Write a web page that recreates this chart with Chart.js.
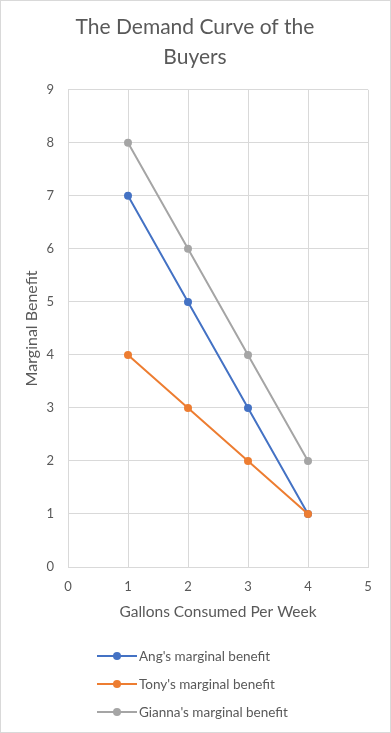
<!DOCTYPE html>
<html>
<head>
<meta charset="utf-8">
<script src="https://cdn.jsdelivr.net/npm/chart.js@4"></script>
<style>
  html, body { margin: 0; padding: 0; background: #fff; }
  #wrap {
    position: relative;
    width: 391px;
    height: 733px;
    box-sizing: border-box;
    border: 1px solid #d9d9d9;
    font-family: Lato, "Open Sans", sans-serif;
  }
  #chart { position: absolute; left: -1px; top: -1px; }
  #legend { position: absolute; left: 96px; top: 641px; }
  .legend-item { display: flex; align-items: center; height: 28px; color: #595959; font-size: 13.5px; }
  .legend-swatch { position: relative; width: 40px; height: 10px; margin-right: 2px; }
  .legend-swatch .ln { position: absolute; left: 0; right: 0; top: 4px; height: 2px; }
  .legend-swatch .dot { position: absolute; left: 16px; top: 1px; width: 8px; height: 8px; border-radius: 50%; }
</style>
</head>
<body>
<div id="wrap">
  <canvas id="chart" width="391" height="733"></canvas>
  <div id="legend"></div>
</div>
<script>
// ========================================
// DEMAND CURVE DATA
// ========================================

const gallons = [1, 2, 3, 4];
const angBenefit = [7, 5, 3, 1];
const tonyBenefit = [4, 3, 2, 1];
const giannaBenefit = [8, 6, 4, 2];

const xTicks = [0, 1, 2, 3, 4, 5];
const yTicks = [0, 1, 2, 3, 4, 5, 6, 7, 8, 9];

const seriesNames = ["Ang's marginal benefit", "Tony's marginal benefit", "Gianna's marginal benefit"];
const seriesColors = ['#4472c4', '#ed7d31', '#a5a5a5'];

const textColor = '#595959';
const gridColor = '#d9d9d9';
const fontFamily = 'Lato, "Open Sans", sans-serif';

function toPoints(values) {
  return gallons.map(function(g, i) { return { x: g, y: values[i] }; });
}

const seriesValues = [angBenefit, tonyBenefit, giannaBenefit];

// later series drawn on top, like the spreadsheet
const datasets = seriesValues.map(function(values, i) {
  return {
    label: seriesNames[i],
    data: toPoints(values),
    borderColor: seriesColors[i],
    backgroundColor: seriesColors[i],
    borderWidth: 2,
    pointRadius: 4,
    pointHoverRadius: 4,
    pointBorderWidth: 0,
    showLine: true,
    tension: 0,
    order: seriesValues.length - i
  };
});

const ctx = document.getElementById('chart').getContext('2d');

const demandChart = new Chart(ctx, {
  type: 'scatter',
  data: { datasets: datasets },
  options: {
    responsive: false,
    animation: false,
    layout: { padding: { left: 22, right: 23, top: 0, bottom: 112 } },
    plugins: {
      legend: { display: false },
      tooltip: { enabled: false },
      title: {
        display: true,
        text: ['The Demand Curve of the', 'Buyers'],
        color: textColor,
        font: { family: fontFamily, size: 21, weight: 'normal', lineHeight: 1.4 },
        padding: { top: 13, bottom: 18 }
      }
    },
    scales: {
      x: {
        type: 'linear',
        min: 0,
        max: 5,
        afterBuildTicks: function(scale) {
          scale.ticks = xTicks.map(function(v) { return { value: v }; });
        },
        grid: { color: gridColor, drawTicks: false },
        border: { color: gridColor },
        ticks: { color: textColor, font: { family: fontFamily, size: 13 }, padding: 12 },
        title: {
          display: true,
          text: 'Gallons Consumed Per Week',
          color: textColor,
          font: { family: fontFamily, size: 15.5 },
          padding: { top: 4, bottom: 0 }
        },
        afterFit: function(scale) { scale.height = 54; }
      },
      y: {
        type: 'linear',
        min: 0,
        max: 9,
        afterBuildTicks: function(scale) {
          scale.ticks = yTicks.map(function(v) { return { value: v }; });
        },
        grid: { color: gridColor, drawTicks: false },
        border: { color: gridColor },
        ticks: { color: textColor, font: { family: fontFamily, size: 13 }, padding: 14 },
        title: {
          display: true,
          text: 'Marginal Benefit',
          color: textColor,
          font: { family: fontFamily, size: 16 },
          padding: 0
        },
        afterFit: function(scale) { scale.width = 46; }
      }
    }
  }
});

// Build legend from chart datasets (in the original series order)
function buildLegend(chart) {
  const legendEl = document.getElementById('legend');
  let html = '';
  chart.data.datasets.forEach(function(ds) {
    html += '<div class="legend-item">' +
      '<span class="legend-swatch">' +
      '<span class="ln" style="background:' + ds.borderColor + '"></span>' +
      '<span class="dot" style="background:' + ds.borderColor + '"></span>' +
      '</span>' + ds.label + '</div>';
  });
  legendEl.innerHTML = html;
}

buildLegend(demandChart);
</script>
</body>
</html>
